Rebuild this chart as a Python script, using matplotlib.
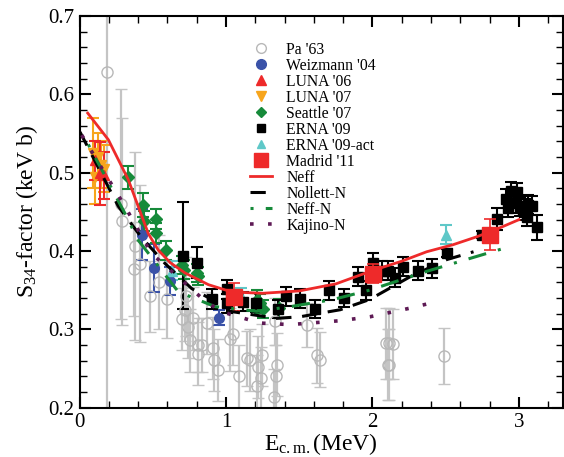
import matplotlib.pyplot as plt
from matplotlib.lines import Line2D
import numpy as np

plt.rcParams['font.family'] = ['Liberation Serif', 'DejaVu Serif']
plt.rcParams['mathtext.fontset'] = 'custom'
plt.rcParams['mathtext.rm'] = 'Liberation Serif'
plt.rcParams['mathtext.it'] = 'Liberation Serif:italic'

# Pa '63 (x, S, err)
pa_x = [0.186, 0.281, 0.288, 0.372, 0.379, 0.413, 0.481, 0.545, 0.600, 0.697, 0.720, 0.725,
        0.743, 0.754, 0.777, 0.807, 0.812, 0.834, 0.868, 0.913, 0.918, 0.948, 1.027, 1.046,
        1.089, 1.141, 1.164, 1.210, 1.220, 1.239, 1.246, 1.330, 1.334, 1.341, 1.346, 1.550,
        1.619, 1.642, 2.092, 2.115, 2.138, 2.104, 2.115, 2.490]
pa_y = [0.629, 0.460, 0.438, 0.377, 0.406, 0.384, 0.342, 0.361, 0.339, 0.313, 0.325, 0.342,
        0.303, 0.286, 0.314, 0.280, 0.269, 0.280, 0.308, 0.276, 0.261, 0.248, 0.287, 0.294,
        0.240, 0.263, 0.261, 0.227, 0.252, 0.238, 0.267, 0.214, 0.310, 0.240, 0.255, 0.305,
        0.267, 0.261, 0.282, 0.282, 0.281, 0.255, 0.255, 0.266]
pa_e = [0.43, 0.147, 0.132, 0.06, 0.12, 0.10, 0.045, 0.06, 0.05, 0.04, 0.04, 0.05,
        0.04, 0.04, 0.04, 0.035, 0.04, 0.035, 0.04, 0.04, 0.04, 0.04, 0.04, 0.04,
        0.04, 0.035, 0.04, 0.04, 0.04, 0.04, 0.04, 0.035, 0.03, 0.04, 0.04, 0.028,
        0.035, 0.035, 0.045, 0.045, 0.045, 0.045, 0.045, 0.036]

wz_x = [0.424, 0.509, 0.618, 0.952]
wz_y = [0.421, 0.378, 0.362, 0.315]
wz_e = [0.033, 0.031, 0.018, 0.01]

luna06_x = [0.106, 0.141, 0.169]
luna06_y = [0.516, 0.499, 0.497]
luna06_e = [0.025, 0.04, 0.03]

luna07_x = [0.093, 0.106, 0.126, 0.148, 0.169]
luna07_y = [0.525, 0.495, 0.520, 0.510, 0.505]
luna07_e = [0.045, 0.035, 0.03, 0.03, 0.03]

sea_x = [0.33, 0.43, 0.44, 0.52, 0.52, 0.59, 0.70, 0.71, 0.80, 0.81, 1.21, 1.23, 1.25, 1.36]
sea_y = [0.494, 0.459, 0.438, 0.441, 0.423, 0.401, 0.382, 0.376, 0.372, 0.368, 0.338, 0.333, 0.326, 0.327]
sea_e = [0.015, 0.015, 0.013, 0.013, 0.013, 0.012, 0.012, 0.012, 0.012, 0.012, 0.012, 0.012, 0.012, 0.012]

erna_x = [0.709, 0.804, 0.902, 1.005, 1.005, 1.114, 1.205, 1.357, 1.41, 1.505, 1.608, 1.705,
          1.808, 1.903, 1.956, 2.005, 2.063, 2.104, 2.154, 2.206, 2.308, 2.404, 2.506, 2.75,
          2.852, 2.909, 2.927, 2.945, 2.984, 2.98, 3.007, 3.025, 3.041, 3.057, 3.064, 3.087, 3.121]
erna_y = [0.394, 0.385, 0.339, 0.351, 0.333, 0.335, 0.334, 0.326, 0.342, 0.339, 0.326, 0.350,
          0.340, 0.367, 0.350, 0.385, 0.375, 0.375, 0.366, 0.380, 0.375, 0.378, 0.397, 0.421,
          0.441, 0.467, 0.455, 0.476, 0.475, 0.461, 0.457, 0.451, 0.455, 0.444, 0.459, 0.458, 0.430]
erna_e = [0.068, 0.02, 0.013, 0.012, 0.012, 0.012, 0.012, 0.012, 0.012, 0.012, 0.012, 0.012,
          0.012, 0.012, 0.012, 0.012, 0.012, 0.012, 0.012, 0.012, 0.012, 0.012, 0.005, 0.005,
          0.014, 0.012, 0.012, 0.012, 0.012, 0.012, 0.012, 0.012, 0.012, 0.012, 0.012, 0.012, 0.016]

act_x = [0.63, 1.10, 2.50]
act_y = [0.375, 0.343, 0.421]
act_e = [0.012, 0.01, 0.012]

mad_x = [1.057, 2.005, 2.80]
mad_y = [0.341, 0.371, 0.421]
mad_e = [0.018, 0.012, 0.02]

neff_x = [0.056, 0.197, 0.333, 0.47, 0.538, 0.62, 0.72, 0.88, 1.0, 1.12, 1.25, 1.5, 1.75, 2.0, 2.2, 2.37, 2.55, 2.71, 2.85, 3.0]
neff_y = [0.576, 0.542, 0.491, 0.422, 0.401, 0.385, 0.372, 0.357, 0.350, 0.347, 0.346, 0.349, 0.358, 0.375, 0.387, 0.399, 0.408, 0.418, 0.428, 0.440]

noll_x = [0.003, 0.265, 0.42, 0.584, 0.766, 0.993, 1.027, 1.346, 1.505, 1.78, 1.98, 2.256, 2.507, 2.69]
noll_y = [0.552, 0.457, 0.418, 0.384, 0.352, 0.329, 0.323, 0.314, 0.316, 0.325, 0.338, 0.367, 0.389, 0.399]

neffn_x = [0.06, 0.31, 0.40, 0.674, 0.925, 1.21, 1.44, 1.73, 1.98, 2.37, 2.89]
neffn_y = [0.536, 0.448, 0.414, 0.348, 0.329, 0.323, 0.329, 0.338, 0.350, 0.374, 0.403]

kaj_x = [0.015, 0.31, 0.49, 0.834, 0.96, 1.232, 1.437, 1.78, 1.983, 2.256, 2.43]
kaj_y = [0.548, 0.457, 0.397, 0.340, 0.323, 0.308, 0.306, 0.311, 0.316, 0.327, 0.335]

fig = plt.figure(figsize=(5.64, 4.57), dpi=100)
ax = fig.add_axes([0.141, 0.108, 0.857, 0.857])

cap = 4.5
gray = '#b8b8b8'
blue = '#3a52a8'
red = '#ee2a2a'
orange = '#f7a51c'
green = '#168a3a'
cyan = '#5fc8c8'
purple = '#5e1a55'

ax.errorbar(pa_x, pa_y, yerr=pa_e, fmt='o', mfc='none', mec=gray, ecolor='#c4c4c4',
            ms=8, mew=1, elinewidth=1.6, capsize=cap, capthick=1.2)
ax.errorbar(wz_x, wz_y, yerr=wz_e, fmt='o', color=blue, ms=7, elinewidth=1.5,
            capsize=cap, capthick=1.5)
ax.errorbar(luna07_x, luna07_y, yerr=luna07_e, fmt='v', color=orange, ms=7, elinewidth=1.5,
            capsize=cap, capthick=1.5, zorder=3)
ax.errorbar(luna06_x, luna06_y, yerr=luna06_e, fmt='^', color=red, ms=7, elinewidth=1.5,
            capsize=cap, capthick=1.5, zorder=3)
ax.errorbar(sea_x, sea_y, yerr=sea_e, fmt='D', color=green, ms=6, elinewidth=1.5,
            capsize=cap, capthick=1.5)
ax.errorbar(act_x, act_y, yerr=act_e, fmt='^', color=cyan, ms=7, elinewidth=1.5,
            capsize=cap, capthick=1.5)
ax.errorbar(erna_x, erna_y, yerr=erna_e, fmt='s', color='black', ms=6.5, elinewidth=1.5,
            capsize=cap, capthick=1.5)
ax.errorbar(mad_x, mad_y, yerr=mad_e, fmt='s', color=red, ms=11, elinewidth=1.2,
            capsize=cap, capthick=1.2, zorder=4)

l1, = ax.plot(neff_x, neff_y, '-', color=red, lw=2, zorder=5)
l2, = ax.plot(noll_x, noll_y, color='black', lw=2.2, dashes=(5, 3.5), zorder=5)
l3, = ax.plot(neffn_x, neffn_y, color=green, lw=2.2, dashes=(1, 4, 6, 4), zorder=5)
l4, = ax.plot(kaj_x, kaj_y, color=purple, lw=2.6, dashes=(1, 4), zorder=5)

ax.set_xlim(0, 3.3)
ax.set_ylim(0.2, 0.7)
ax.set_xticks([0, 1, 2, 3])
ax.set_xticks(np.arange(0, 3.3, 0.2), minor=True)
ax.set_yticks([0.2, 0.3, 0.4, 0.5, 0.6, 0.7])
ax.set_yticks(np.arange(0.2, 0.7, 0.02), minor=True)
ax.set_xticklabels(['0', '1', '2', '3'])
ax.tick_params(which='both', direction='in', top=True, right=True, labelsize=15)
ax.tick_params(which='major', length=8, width=1.5)
ax.tick_params(which='minor', length=5, width=1)
for s in ax.spines.values():
    s.set_linewidth(1.5)

ax.set_xlabel('E$_{\\rm c.m.}$(MeV)', fontsize=17, labelpad=0)
ax.set_ylabel('S$_{34}$-factor (keV b)', fontsize=17, labelpad=6)

labels = ["Pa '63", "Weizmann '04", "LUNA '06", "LUNA '07", "Seattle '07", "ERNA '09",
          "ERNA '09-act", "Madrid '11", 'Neff', 'Nollett-N', 'Neff-N', 'Kajino-N']
handles = [
    Line2D([], [], ls='none', marker='o', mfc='none', mec=gray, ms=7),
    Line2D([], [], ls='none', marker='o', color=blue, ms=7),
    Line2D([], [], ls='none', marker='^', color=red, ms=7),
    Line2D([], [], ls='none', marker='v', color=orange, ms=7),
    Line2D([], [], ls='none', marker='D', color=green, ms=5.5),
    Line2D([], [], ls='none', marker='s', color='black', ms=5.5),
    Line2D([], [], ls='none', marker='^', color=cyan, ms=6),
    Line2D([], [], ls='none', marker='s', color=red, ms=10),
    l1, l2, l3, l4,
]
ax.legend(handles, labels, loc='upper left', bbox_to_anchor=(0.33, 0.962),
          frameon=False, fontsize=11.3, handlelength=1.4, handletextpad=0.9,
          labelspacing=0.0, borderpad=0.2)

fig.savefig('out.png', dpi=100)
